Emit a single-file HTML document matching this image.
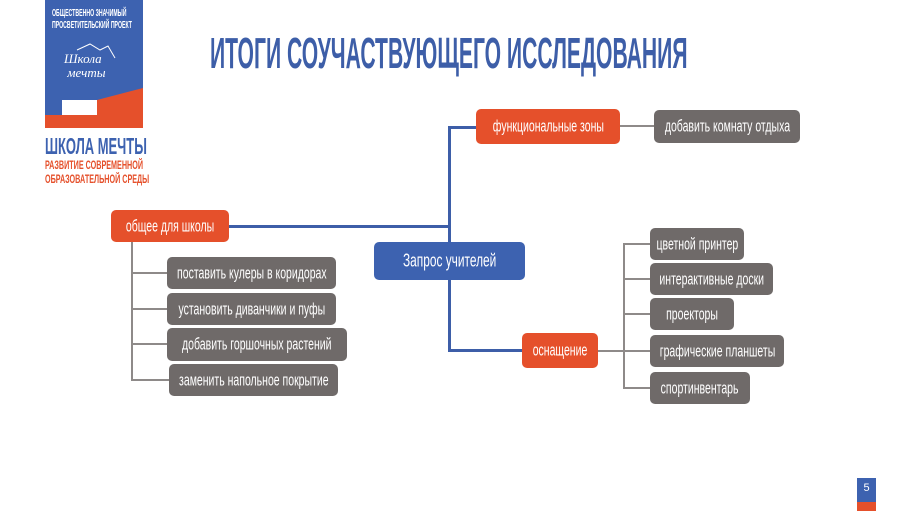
<!DOCTYPE html>
<html><head><meta charset="utf-8"><style>
*{margin:0;padding:0;box-sizing:border-box}
body{width:900px;height:511px;background:#fff;position:relative;overflow:hidden;font-family:"Liberation Sans Narrow","Liberation Sans",sans-serif}
.a{position:absolute}
.n{position:absolute;border-radius:5px;color:#fff;display:flex;align-items:center;justify-content:center;white-space:nowrap;font-size:15px}
.n span{display:inline-block;transform:scale(0.7,1.1)}
.o{background:#e5502b}.g{background:#6f6a69}.b{background:#3d62b0}
.l{position:absolute;background:#8e8a89}
.bl{position:absolute;background:#3d5ea8}
</style></head><body>
<!-- logo -->
<div class="a" style="left:45px;top:0;width:98px;height:115px;background:#3d62b0"></div>
<svg class="a" style="left:45px;top:0" width="98" height="130">
<polygon points="52,100 98,88 98,115 52,115" fill="#e5502b"/>
<rect x="17" y="100" width="35" height="15" fill="#fff"/>
<rect x="0" y="115" width="98" height="13" fill="#e5502b"/>
<path d="M32,50 L45,44 L55,50 L63,46 L70,58" stroke="#fff" fill="none" stroke-width="1"/>
</svg>
<div class="a" style="left:52px;top:8px;color:#fff;font-size:10px;line-height:12px;font-weight:bold;white-space:nowrap"><div style="transform:scaleX(0.52);transform-origin:left top">ОБЩЕСТВЕННО ЗНАЧИМЫЙ<br>ПРОСВЕТИТЕЛЬСКИЙ ПРОЕКТ</div></div>
<div class="a" style="left:64px;top:52px;color:#fff;font-size:13px;font-style:italic;font-family:'Liberation Serif',serif;line-height:14px">Школа<br>&nbsp;мечты</div>
<div class="a" style="left:45px;top:134px;color:#3d62b0;font-size:24px;font-weight:bold;white-space:nowrap"><div style="transform:scale(0.54,0.95);transform-origin:left top">ШКОЛА МЕЧТЫ</div></div>
<div class="a" style="left:45px;top:158px;color:#e5502b;font-size:12px;font-weight:bold;line-height:14px;white-space:nowrap"><div style="transform:scaleX(0.6);transform-origin:left top">РАЗВИТИЕ СОВРЕМЕННОЙ<br>ОБРАЗОВАТЕЛЬНОЙ СРЕДЫ</div></div>
<!-- title -->
<div class="a" style="left:210px;top:29px;color:#3d5ea8;font-size:44px;font-weight:bold;white-space:nowrap;transform:scale(0.48,1.0);transform-origin:left top">ИТОГИ СОУЧАСТВУЮЩЕГО ИССЛЕДОВАНИЯ</div>
<!-- blue lines -->
<div class="bl" style="left:448px;top:126px;width:3px;height:226px"></div>
<div class="bl" style="left:229px;top:225px;width:221px;height:3px"></div>
<div class="bl" style="left:448px;top:126px;width:30px;height:3px"></div>
<div class="bl" style="left:448px;top:349px;width:76px;height:3px"></div>
<!-- gray lines -->
<div class="l" style="left:620px;top:125px;width:34px;height:2px"></div>
<div class="l" style="left:131px;top:242px;width:2px;height:139px"></div>
<div class="l" style="left:131px;top:272px;width:36px;height:2px"></div>
<div class="l" style="left:131px;top:308px;width:36px;height:2px"></div>
<div class="l" style="left:131px;top:343px;width:36px;height:2px"></div>
<div class="l" style="left:131px;top:379px;width:38px;height:2px"></div>
<div class="l" style="left:623px;top:243px;width:2px;height:146px"></div>
<div class="l" style="left:598px;top:350px;width:26px;height:2px"></div>
<div class="l" style="left:623px;top:243px;width:27px;height:2px"></div>
<div class="l" style="left:623px;top:278px;width:27px;height:2px"></div>
<div class="l" style="left:623px;top:313px;width:27px;height:2px"></div>
<div class="l" style="left:623px;top:350px;width:27px;height:2px"></div>
<div class="l" style="left:623px;top:387px;width:27px;height:2px"></div>
<!-- nodes -->
<div class="n o" style="left:111px;top:210px;width:118px;height:32px"><span>общее для школы</span></div>
<div class="n b" style="left:374px;top:242px;width:151px;height:38px;font-size:17px"><span>Запрос учителей</span></div>
<div class="n o" style="left:476px;top:109px;width:144px;height:35px"><span>функциональные зоны</span></div>
<div class="n g" style="left:654px;top:110px;width:146px;height:33px"><span>добавить комнату отдыха</span></div>
<div class="n o" style="left:522px;top:333px;width:76px;height:35px"><span>оснащение</span></div>
<div class="n g" style="left:167px;top:257px;width:169px;height:32px"><span>поставить кулеры в коридорах</span></div>
<div class="n g" style="left:167px;top:293px;width:169px;height:32px"><span>установить диванчики и пуфы</span></div>
<div class="n g" style="left:167px;top:328px;width:180px;height:33px"><span>добавить горшочных растений</span></div>
<div class="n g" style="left:169px;top:364px;width:169px;height:32px"><span>заменить напольное покрытие</span></div>
<div class="n g" style="left:650px;top:228px;width:94px;height:32px"><span>цветной принтер</span></div>
<div class="n g" style="left:650px;top:263px;width:123px;height:32px"><span>интерактивные доски</span></div>
<div class="n g" style="left:650px;top:298px;width:84px;height:32px"><span>проекторы</span></div>
<div class="n g" style="left:650px;top:335px;width:134px;height:32px"><span>графические планшеты</span></div>
<div class="n g" style="left:650px;top:372px;width:100px;height:32px"><span>спортинвентарь</span></div>
<!-- page num -->
<div class="a" style="left:857px;top:478px;width:19px;height:24px;background:#3d62b0;color:#fff;font-size:11px;text-align:center;line-height:20px">5</div>
<div class="a" style="left:857px;top:502px;width:19px;height:9px;background:#e5502b"></div>
</body></html>
